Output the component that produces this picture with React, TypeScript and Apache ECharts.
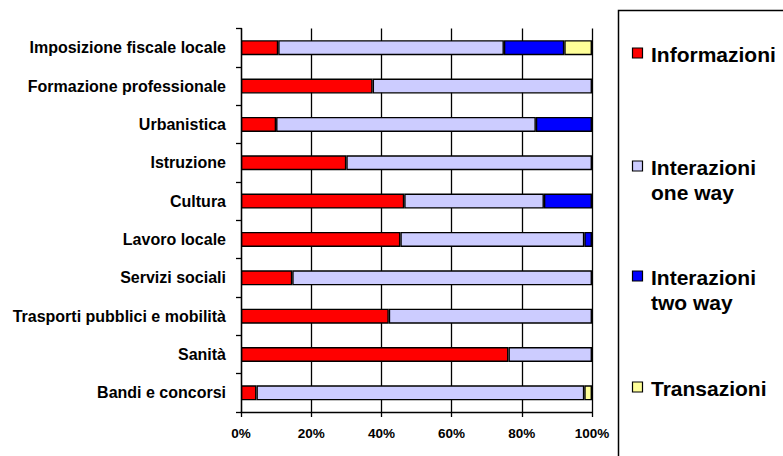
import React, { useEffect, useRef } from "react";
import * as echarts from "echarts";

const categories = [
  "Imposizione fiscale locale",
  "Formazione professionale",
  "Urbanistica",
  "Istruzione",
  "Cultura",
  "Lavoro locale",
  "Servizi sociali",
  "Trasporti pubblici e mobilità",
  "Sanità",
  "Bandi e concorsi",
];

const informazioni = [10.6, 37.5, 10, 30, 46.5, 45.4, 14.6, 42.1, 76.2, 4.4];
const interazioniOneWay = [64.3, 62.5, 74, 70, 39.8, 52.4, 85.4, 57.9, 23.8, 93.4];
const interazioniTwoWay = [17.2, null, 16, null, 13.7, 2.2, null, null, null, null];
const transazioni = [7.9, null, null, null, null, null, null, null, null, 2.2];

const seriesNames = ["Informazioni", "Interazioni one way", "Interazioni two way", "Transazioni"];
const legendLabels = ["Informazioni", "Interazioni\none way", "Interazioni\ntwo way", "Transazioni"];
const seriesColors = ["#FF0000", "#CCCCFF", "#0000FF", "#FFFF99"];
const xTicks = [0, 20, 40, 60, 80, 100];

const FONT = 'Arial, "Liberation Sans", Helvetica, sans-serif';

export default function App() {
  const ref = useRef<HTMLDivElement>(null);

  useEffect(() => {
    if (!ref.current) return;
    const chart = echarts.init(ref.current, null, { renderer: "svg" });
    const data = [informazioni, interazioniOneWay, interazioniTwoWay, transazioni];
    const legendTops = [41.5, 154.5, 264.5, 375.5];

    const graphics: any[] = [
      {
        type: "rect",
        shape: { x: 618.5, y: 10.5, width: 200, height: 500 },
        style: { fill: "#fff", stroke: "#000", lineWidth: 1.5 },
        z: -1,
      },
    ];
    legendLabels.forEach((lbl, i) => {
      graphics.push({
        type: "rect",
        shape: { x: 632.5, y: legendTops[i] + 6.5, width: 10, height: 10 },
        style: { fill: seriesColors[i], stroke: "#000", lineWidth: 1.2 },
      });
      graphics.push({
        type: "text",
        x: 651,
        y: legendTops[i],
        style: {
          text: lbl,
          fill: "#000",
          font: `bold 21px ${FONT}`,
          lineHeight: 25,
          verticalAlign: "top",
          align: "left",
        },
      });
    });

    chart.setOption({
      animation: false,
      backgroundColor: "#fff",
      grid: { left: 241, top: 28.5, right: 191, bottom: 44, containLabel: false },
      xAxis: {
        type: "value",
        min: xTicks[0],
        max: xTicks[xTicks.length - 1],
        interval: 20,
        axisLine: { show: true, lineStyle: { color: "#000", width: 1.3 } },
        axisTick: { show: true, length: 5, lineStyle: { color: "#000", width: 1.3 } },
        axisLabel: {
          formatter: "{value}%",
          color: "#000",
          fontWeight: "bold",
          fontSize: 13.5,
          fontFamily: FONT,
          margin: 14,
        },
        splitLine: { show: true, lineStyle: { color: "#000", width: 1.3 } },
      },
      yAxis: {
        type: "category",
        data: categories,
        inverse: true,
        axisLine: { show: true, lineStyle: { color: "#000", width: 1.3 } },
        axisTick: { show: true, length: 5, lineStyle: { color: "#000", width: 1.3 } },
        axisLabel: {
          color: "#000",
          fontWeight: "bold",
          fontSize: 16,
          fontFamily: FONT,
          margin: 15,
        },
        splitLine: { show: false },
      },
      graphic: graphics,
      series: seriesNames.map((name, i) => ({
        name,
        type: "bar",
        stack: "total",
        data: data[i],
        barWidth: 15,
        itemStyle: { color: seriesColors[i], borderColor: "#000", borderWidth: 1.4 },
      })),
    });

    return () => chart.dispose();
  }, []);

  return (
    <div
      ref={ref}
      style={{ position: "fixed", left: 0, top: 0, width: 783, height: 456 }}
    />
  );
}
